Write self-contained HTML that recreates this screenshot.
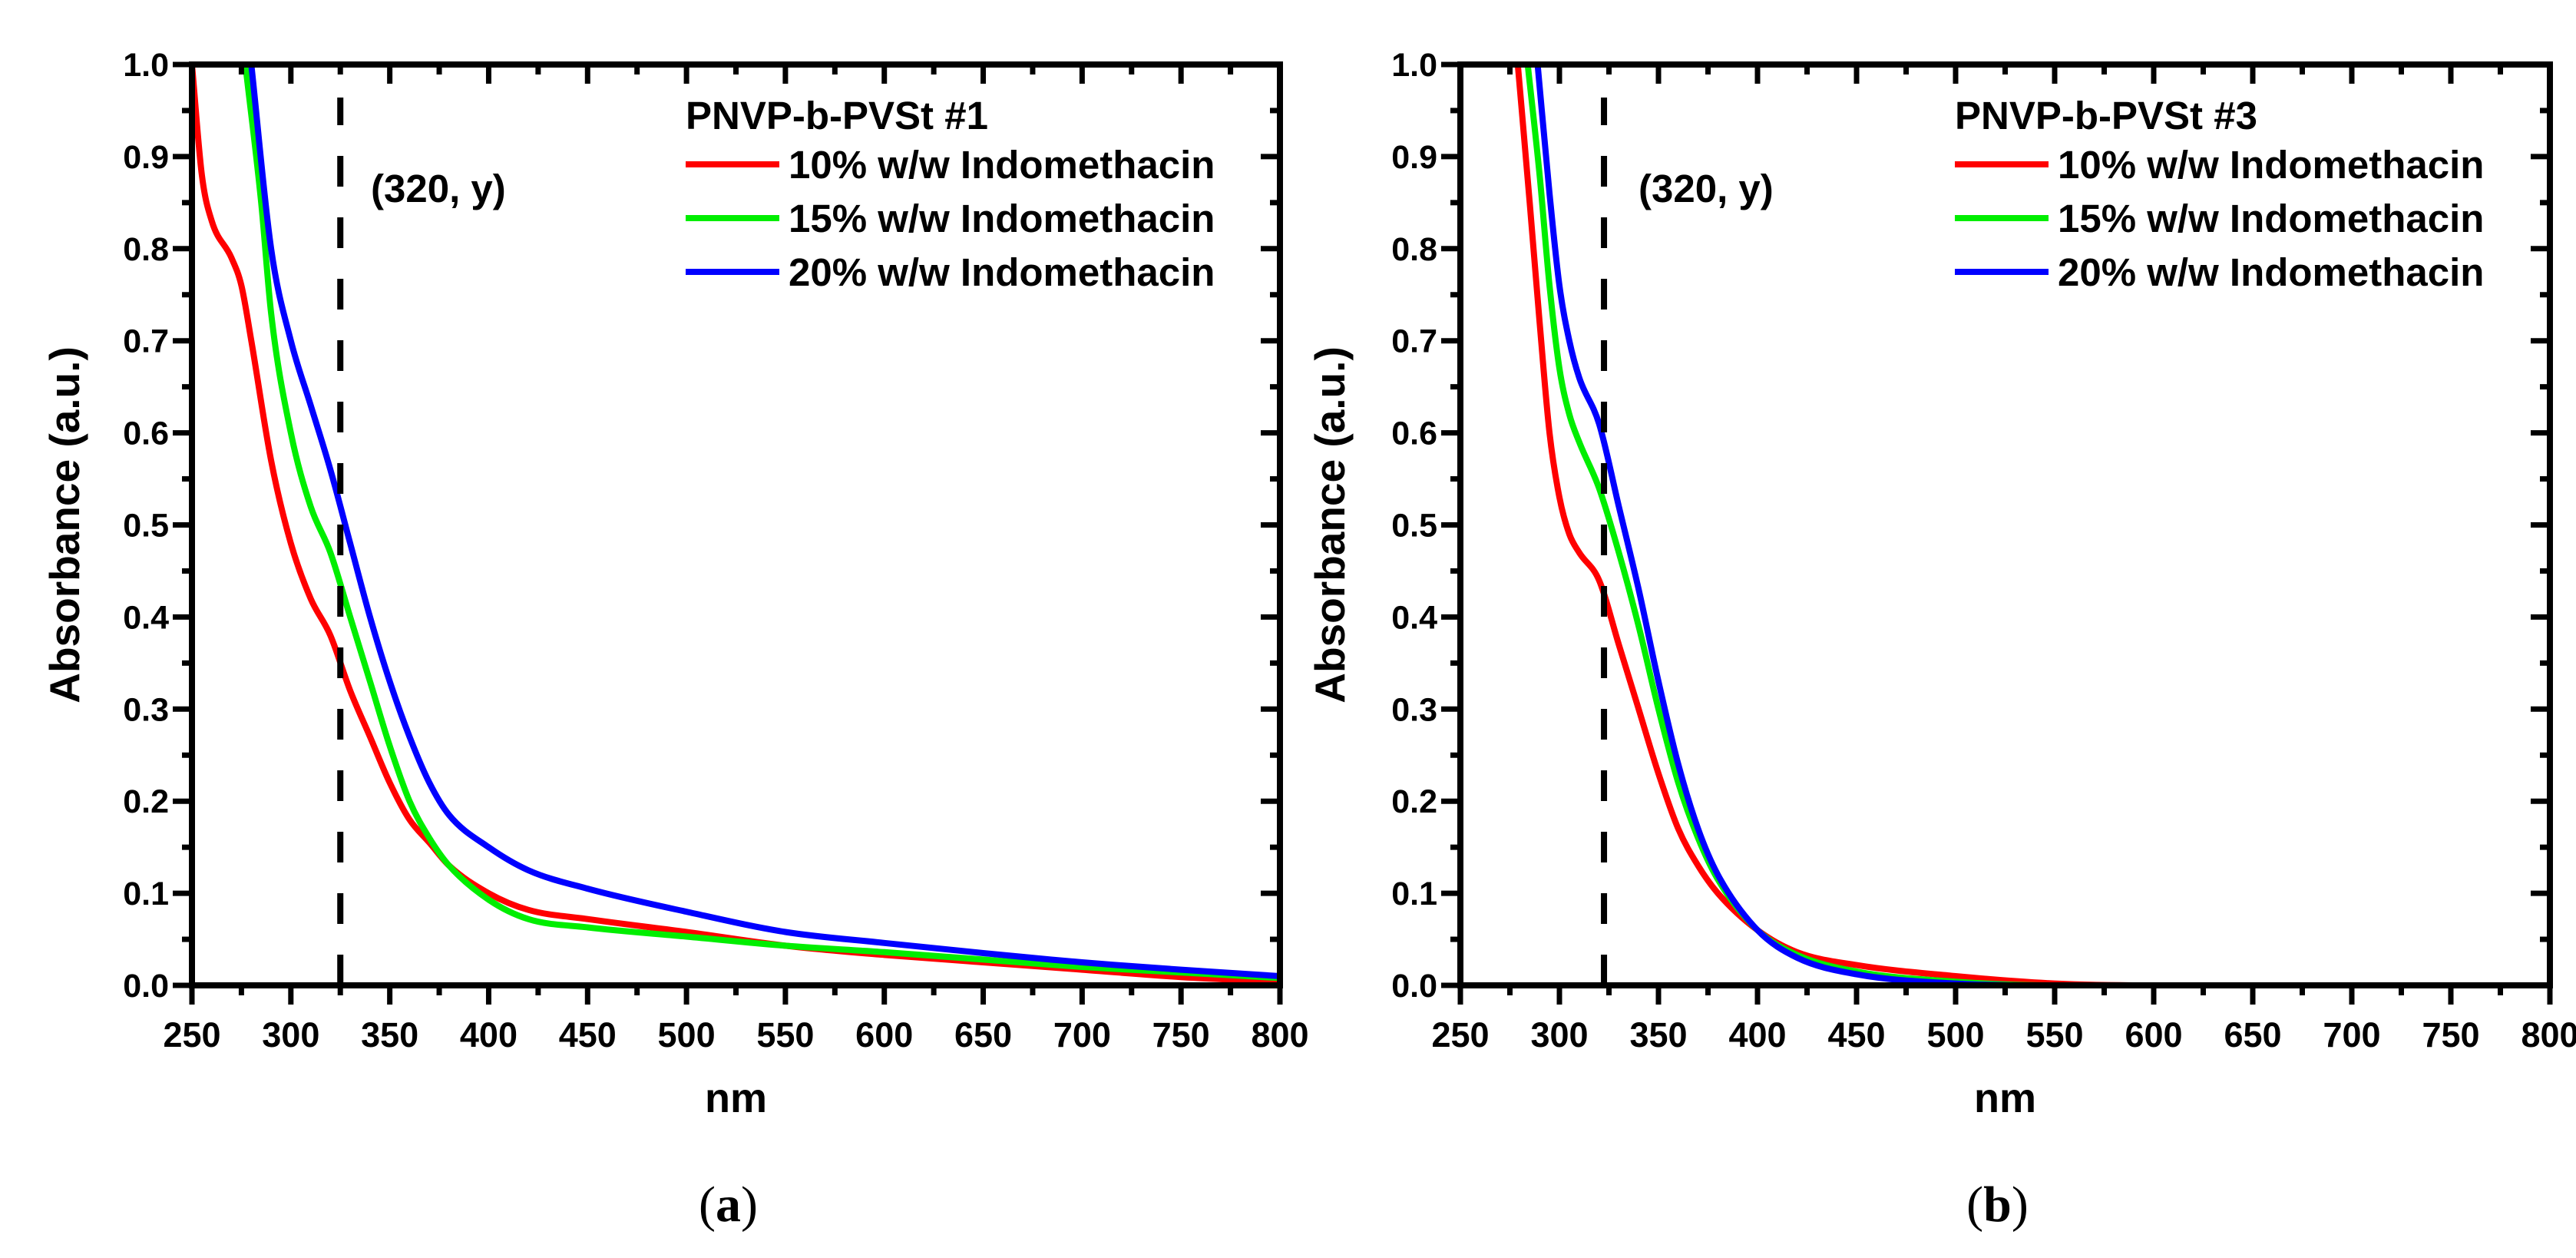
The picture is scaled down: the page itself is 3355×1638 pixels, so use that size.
<!DOCTYPE html>
<html><head><meta charset="utf-8"><style>
html,body{margin:0;padding:0;background:#fff;}
svg{display:block;font-family:"Liberation Sans",Arial,sans-serif;font-weight:bold;}
</style></head><body>
<svg id="fig" width="3355" height="1638" viewBox="0 0 3355 1638" xmlns="http://www.w3.org/2000/svg"></svg>
<script>
const xTicks=[250,300,350,400,450,500,550,600,650,700,750,800];
const yTicks=[0.0,0.1,0.2,0.3,0.4,0.5,0.6,0.7,0.8,0.9,1.0];
const legendLabels=["10% w/w Indomethacin","15% w/w Indomethacin","20% w/w Indomethacin"];
const seriesColors=["#ff0000","#00ee00","#0000ff"];
// Panel a
const aRedX=[250,255,260,270,275,280,290,300,310,320,330,340,350,360,370,380,400,420,450,500,550,600,650,700,750,800];
const aRedY=[1.0,0.88,0.83,0.79,0.76,0.70,0.57,0.48,0.42,0.38,0.32,0.27,0.22,0.18,0.155,0.13,0.10,0.082,0.072,0.058,0.043,0.033,0.025,0.017,0.009,0.004];
const aGreenX=[277,285,290,300,310,320,330,340,350,360,370,380,400,420,450,500,550,600,650,700,750,800];
const aGreenY=[1.0,0.85,0.73,0.60,0.52,0.47,0.40,0.33,0.26,0.20,0.16,0.13,0.093,0.072,0.063,0.053,0.043,0.036,0.028,0.02,0.014,0.008];
const aBlueX=[280,290,300,310,320,330,340,350,360,370,380,400,420,450,500,550,600,650,700,750,800];
const aBlueY=[1.0,0.80,0.70,0.63,0.56,0.48,0.40,0.33,0.27,0.22,0.185,0.15,0.125,0.105,0.08,0.058,0.046,0.035,0.025,0.017,0.01];
// Panel b
const bRedX=[279,285,290,295,300,305,310,320,330,340,350,360,370,380,400,420,450,500,550,600,800];
const bRedY=[1.0,0.85,0.72,0.60,0.53,0.49,0.47,0.44,0.37,0.30,0.23,0.17,0.13,0.10,0.06,0.036,0.022,0.01,0.002,0,0];
const bGreenX=[284,290,295,300,305,310,320,330,340,350,360,370,380,400,420,450,500,550,800];
const bGreenY=[1.0,0.88,0.76,0.67,0.62,0.59,0.54,0.47,0.39,0.30,0.22,0.16,0.115,0.06,0.033,0.015,0.004,0,0];
const bBlueX=[289,295,300,305,310,320,330,340,350,360,370,380,400,420,450,500,550,800];
const bBlueY=[1.0,0.86,0.76,0.70,0.66,0.61,0.52,0.43,0.33,0.24,0.17,0.12,0.06,0.03,0.012,0.002,0,0];
const aDash=325, bDash=322.5;

const NS="http://www.w3.org/2000/svg";
const svg=document.getElementById('fig');
function mk(tag,attrs,parent,text){const e=document.createElementNS(NS,tag);for(const k in attrs)e.setAttribute(k,attrs[k]);if(text!==undefined)e.textContent=text;(parent||svg).appendChild(e);return e;}

// monotone cubic path (Fritsch-Carlson) in pixel space
function monoPath(px,py){
  const n=px.length;if(n<2)return '';
  const dx=[],m=[],t=new Array(n);
  for(let i=0;i<n-1;i++){dx.push(px[i+1]-px[i]);m.push((py[i+1]-py[i])/(px[i+1]-px[i]));}
  t[0]=m[0];t[n-1]=m[n-2];
  for(let i=1;i<n-1;i++){t[i]=(m[i-1]*m[i]<=0)?0:(m[i-1]+m[i])/2;}
  for(let i=0;i<n-1;i++){
    if(m[i]===0){t[i]=0;t[i+1]=0;continue;}
    const a=t[i]/m[i],b=t[i+1]/m[i],s=a*a+b*b;
    if(s>9){const k=3/Math.sqrt(s);t[i]=k*a*m[i];t[i+1]=k*b*m[i];}
  }
  let d='M'+px[0].toFixed(1)+','+py[0].toFixed(1);
  for(let i=0;i<n-1;i++){
    const h=dx[i]/3;
    d+='C'+(px[i]+h).toFixed(1)+','+(py[i]+t[i]*h).toFixed(1)+' '+(px[i+1]-h).toFixed(1)+','+(py[i+1]-t[i+1]*h).toFixed(1)+' '+px[i+1].toFixed(1)+','+py[i+1].toFixed(1);
  }
  return d;
}

function panel(id,L,R,T,B,series,dashX,title,letter,ylabX,legX,noteX){
  const g=mk('g',{});
  
  
  const sx=v=>L+(v-250)/550*(R-L), sy=v=>B-(v-0)/1*(B-T);
  const clipId=id+'-clip';
  const cp=mk('clipPath',{id:clipId},g);mk('rect',{x:L,y:T,width:R-L,height:B-T},cp);
  series.forEach((s,i)=>{
    const d=monoPath(s[0].map(sx),s[1].map(sy));
    const p=mk('path',{d:d,fill:'none',stroke:seriesColors[i],'stroke-width':8,'stroke-linejoin':'round','clip-path':'url(#'+clipId+')'},g);
    
    
  });
  const dl=mk('line',{x1:sx(dashX),x2:sx(dashX),y1:B,y2:T+43,stroke:'#000','stroke-width':8,'stroke-dasharray':'40 40'},g);
  
  
  const fr=mk('rect',{x:L,y:T,width:R-L,height:B-T,fill:'none',stroke:'#000','stroke-width':8},g);
  
  
  for(let v=250;v<=800;v+=25){
    const maj=(v%50===0), x=sx(v), len=maj?25:13;
    mk('line',{x1:x,x2:x,y1:B,y2:B+len,stroke:'#000','stroke-width':7},g);
    mk('line',{x1:x,x2:x,y1:T,y2:T+len,stroke:'#000','stroke-width':7},g);
  }
  xTicks.forEach(v=>{
    const t=mk('text',{x:sx(v),y:B+80,'font-size':45,'text-anchor':'middle'},g,String(v));
    
    
  });
  for(let k=0;k<=20;k++){
    const v=k*0.05, maj=(k%2===0), y=sy(v), len=maj?25:13;
    mk('line',{x1:L-len,x2:L,y1:y,y2:y,stroke:'#000','stroke-width':7},g);
    mk('line',{x1:R-len,x2:R,y1:y,y2:y,stroke:'#000','stroke-width':7},g);
  }
  yTicks.forEach(v=>{
    const t=mk('text',{x:L-30,y:sy(v)+15,'font-size':43,'text-anchor':'end'},g,v.toFixed(1));
    
    
  });
  const xt=mk('text',{x:(L+R)/2,y:B+165,'font-size':54,'text-anchor':'middle'},g,'nm');
  
  
  const yt=mk('text',{x:ylabX,y:(T+B)/2,'font-size':55,'text-anchor':'middle',transform:'rotate(-90 '+ylabX+' '+(T+B)/2+')'},g,'Absorbance (a.u.)');
  
  
  const nt=mk('text',{x:noteX,y:263,'font-size':51},g,'(320, y)');
  
  
  const lg=mk('g',{},g);
  
  
  const lt=mk('text',{x:legX,y:168,'font-size':51},lg,title);
  
  
  legendLabels.forEach((lab,i)=>{
    const y=214+i*70;
    const e=mk('g',{},lg);
    
    
    mk('line',{x1:legX,x2:legX+122,y1:y,y2:y,stroke:seriesColors[i],'stroke-width':8},e);
    mk('text',{x:legX+134,y:y+18,'font-size':51},e,lab);
  });
  const pl=mk('text',{x:(L+R)/2-10,y:1590,'font-size':66,'text-anchor':'middle','font-family':'"Liberation Serif",serif','font-weight':'normal'},g);
  
  
  mk('tspan',{},pl,'(');mk('tspan',{'font-weight':'bold'},pl,letter);mk('tspan',{},pl,')');
}
panel('panel-a',250,1667,84,1283,[[aRedX,aRedY],[aGreenX,aGreenY],[aBlueX,aBlueY]],aDash,'PNVP-b-PVSt #1','a',103,893,483);
panel('panel-b',1902,3321,84,1283,[[bRedX,bRedY],[bGreenX,bGreenY],[bBlueX,bBlueY]],bDash,'PNVP-b-PVSt #3','b',1751,2546,2134);
</script>
</body></html>
